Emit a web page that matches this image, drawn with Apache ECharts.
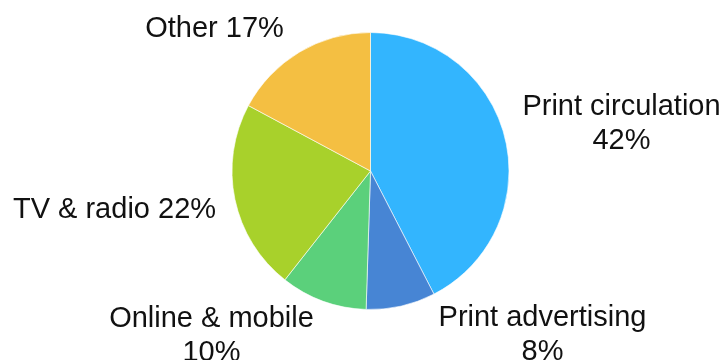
<!DOCTYPE html>
<html>
<head>
<meta charset="utf-8">
<style>
  html, body { margin: 0; padding: 0; background: #ffffff; }
  #chart { width: 726px; height: 360px; }
</style>
<script src="https://cdn.jsdelivr.net/npm/echarts@6/dist/echarts.min.js"></script>
</head>
<body>
<div id="chart"></div>
<script>
// Revenue share by source
const categories = ['Print circulation', 'Print advertising', 'Online & mobile', 'TV & radio', 'Other'];
const shares = [42, 8, 10, 22, 17];
const sliceColors = ['#33B5FE', '#4785D4', '#5BD07B', '#A8D12B', '#F4BF42'];

// label text: two lines for the long names, one line for the short ones
const twoLine = [true, true, true, false, false];

// label block centres, relative to the pie centre
const labelOffsets = [
  [251, -47],
  [172, 164],
  [-159, 165],
  [-256, 39],
  [-156, -142]
];

const cx = 370.5, cy = 171, r = 138.5;

const chart = echarts.init(document.getElementById('chart'), null, { renderer: 'canvas' });

chart.setOption({
  animation: false,
  backgroundColor: '#ffffff',
  series: [{
    type: 'pie',
    center: [cx, cy],
    radius: r,
    startAngle: 90,
    clockwise: true,
    avoidLabelOverlap: false,
    data: categories.map((name, i) => ({
      name: name,
      value: shares[i],
      itemStyle: { color: sliceColors[i] }
    })),
    itemStyle: { borderColor: '#ffffff', borderWidth: 0.6 },
    label: {
      show: true,
      position: 'outside',
      fontFamily: 'Liberation Sans, Arial, sans-serif',
      fontSize: 29,
      lineHeight: 34,
      color: '#111111',
      align: 'center',
      formatter: p => p.name + (twoLine[p.dataIndex] ? '\n' : ' ') + p.value + '%'
    },
    labelLine: { show: false },
    labelLayout: p => {
      const o = labelOffsets[p.dataIndex];
      return { x: cx + o[0], y: cy + o[1], align: 'center', verticalAlign: 'middle' };
    }
  }]
});
</script>
</body>
</html>
